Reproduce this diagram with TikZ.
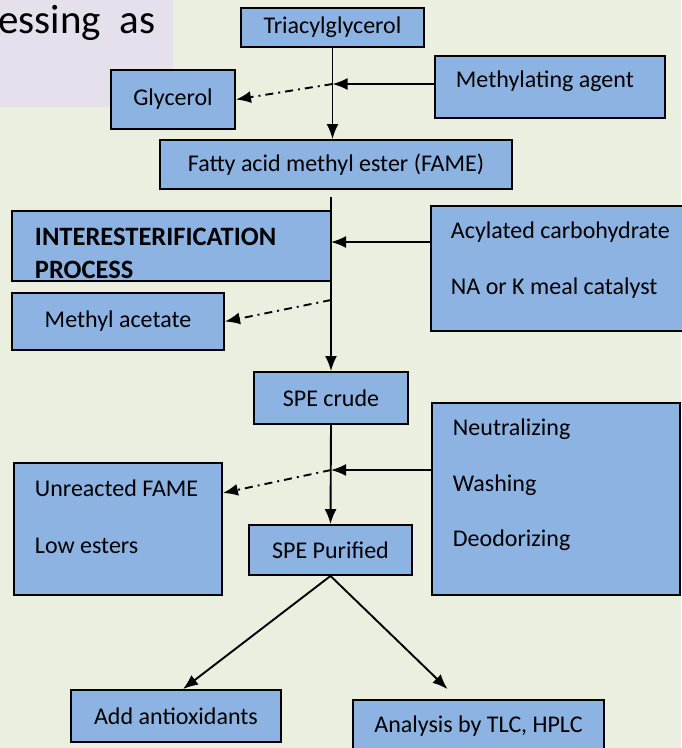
\documentclass[tikz,border=0pt]{standalone}
\usepackage{fontspec}
\setmainfont{Carlito}
\usetikzlibrary{arrows.meta}
\definecolor{boxblue}{HTML}{8DB3E2}
\definecolor{bgolive}{HTML}{EBEFDF}
\definecolor{bgpurple}{HTML}{E5E0EC}
\tikzset{>={Latex[length=15pt,width=12pt]}}
\tikzset{procbox/.style = {shape=rectangle,draw,fill=boxblue,line width=1.9pt,inner sep=0pt,font=\fontsize{24}{29}\selectfont}}
\tikzset{flow/.style = {->,line width=1.9pt}}
\tikzset{sideflow/.style = {->,line width=1.9pt,dash pattern=on 8pt off 5pt on 2pt off 5pt}}
\newcommand{\toptext}[5]{\parbox[t][#1][t]{#2}{\raggedright\leftskip=#3\relax\vspace*{#4}#5}}

\begin{document}
\begin{tikzpicture}[x=1pt,y=-1pt]
                \useasboundingbox (0,0) rectangle (681,748);
                \fill[bgolive] (0,0) rectangle (681,748);
                \fill[bgpurple] (0,0) rectangle (173,107);
                \node[anchor=base west,inner sep=0pt,font=\fontsize{41}{49}\selectfont] (title) at (-2,33) {essing~ as};
                % main line
                \node[procbox, minimum width=183pt, minimum height=39pt] (tri) at (332.5,27.5) {Triacylglycerol};
                \node[procbox, minimum width=124pt, minimum height=59pt] (glyc) at (173,99.5) {Glycerol};
                \node[procbox, anchor=north west] (meth) at (434,55) {\toptext{62pt}{230pt}{21pt}{15pt}{Methylating agent}};
                \node[procbox, minimum width=352pt, minimum height=49pt] (fame) at (336,164.5) {Fatty acid methyl ester (FAME)};
                \node[procbox, anchor=north west] (inter) at (11,210) {\toptext{70pt}{319pt}{23pt}{17pt}{\fontsize{26.5}{29}\selectfont\textbf{INTERESTERIFICATION}\\[4pt]\textbf{PROCESS}}};
                \node[procbox, anchor=north west] (acyl) at (430,205) {\toptext{125pt}{254pt}{20pt}{16pt}{Acylated carbohydrate\\[27pt]NA or K meal catalyst}};
                \node[procbox, minimum width=212pt, minimum height=57pt] (macet) at (118,321.5) {Methyl acetate};
                \node[procbox, minimum width=154pt, minimum height=52pt] (crude) at (331,398) {SPE crude};
                \node[procbox, anchor=north west] (neut) at (431,402) {\toptext{192pt}{248pt}{21pt}{16pt}{Neutralizing\\[26.5pt]Washing\\[26.5pt]Deodorizing}};
                \node[procbox, anchor=north west] (unre) at (13,462) {\toptext{132pt}{208pt}{21pt}{17pt}{Unreacted FAME\\[28pt]Low esters}};
                \node[procbox, minimum width=163pt, minimum height=50pt] (pur) at (330.5,550) {SPE Purified};
                \node[procbox, minimum width=210pt, minimum height=52pt] (anti) at (176,716) {Add antioxidants};
                \node[procbox, minimum width=251pt, minimum height=52pt] (ana) at (478.5,726) {Analysis by TLC, HPLC};
                % joints on the main line
                \coordinate (j1) at (tri.south |- 0,84);
                \coordinate (j2) at (331,242);
                \coordinate (j3) at (331,300);
                \coordinate (j4) at (331,470);
                % connectors
                \draw[flow] (tri.south) -- (tri.south |- fame.north);
                \draw[flow] (j1 -| meth.west) -- (j1);
                \draw[sideflow] (j1) -- (glyc.east);
                \draw[flow, shorten <=7pt] (crude.north |- fame.south) -- (crude.north);
                \draw[flow] (j2 -| acyl.west) -- (j2);
                \draw[sideflow] (j3) -- (macet.east);
                \draw[flow] (crude.south) -- (pur.north);
                \draw[flow] (j4 -| neut.west) -- (j4);
                \draw[sideflow] (j4) -- ([yshift=-31pt]unre.north east);
                \draw[flow] (pur.south) -- ([xshift=7pt]anti.north);
                \draw[flow] (pur.south) -- ([xshift=-31pt,yshift=10pt]ana.north);
            \end{tikzpicture}
\end{document}
